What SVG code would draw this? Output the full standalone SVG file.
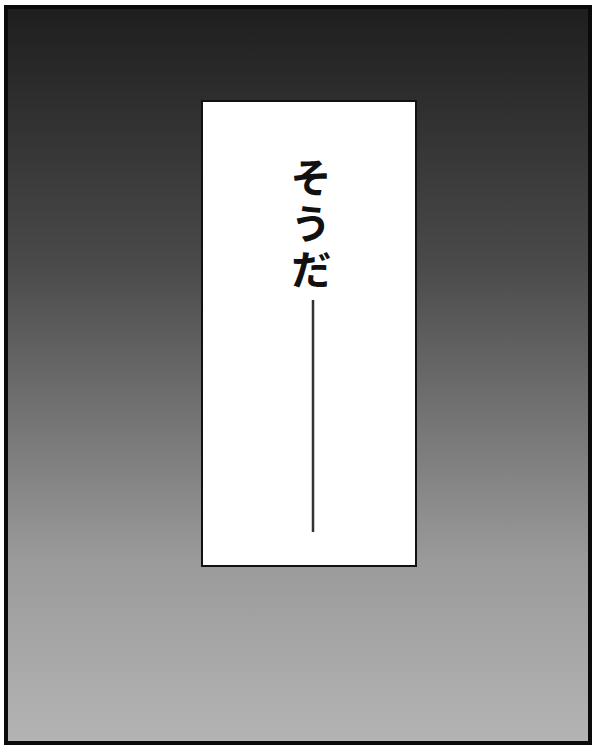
<svg xmlns="http://www.w3.org/2000/svg" width="597" height="754" viewBox="0 0 597 754">
<defs>
<linearGradient id="bg" x1="0" y1="0" x2="0" y2="1">
<stop offset="0" stop-color="#1e1e1e"/>
<stop offset="0.35" stop-color="#4a4a4a"/>
<stop offset="0.75" stop-color="#9a9a9a"/>
<stop offset="1" stop-color="#b4b4b4"/>
</linearGradient>
<style>
.t{font-family:"Noto Sans CJK JP","Noto Sans CJK SC",sans-serif;font-size:41px;font-weight:700;fill:#111;writing-mode:vertical-rl;letter-spacing:5px}
</style>
</defs>
<rect width="597" height="754" fill="#ffffff"/>
<g id="panel">
<rect x="6" y="7" width="584" height="736" fill="url(#bg)" stroke="#0a0a0a" stroke-width="4"/>
</g>
<g id="caption">
<rect x="202" y="101" width="214" height="465" fill="#ffffff" stroke="#111" stroke-width="2"/>
<text class="t" x="311" y="157">そうだ</text>
<line x1="313" y1="300" x2="313" y2="532" stroke="#333" stroke-width="2.5"/>
</g>
</svg>
